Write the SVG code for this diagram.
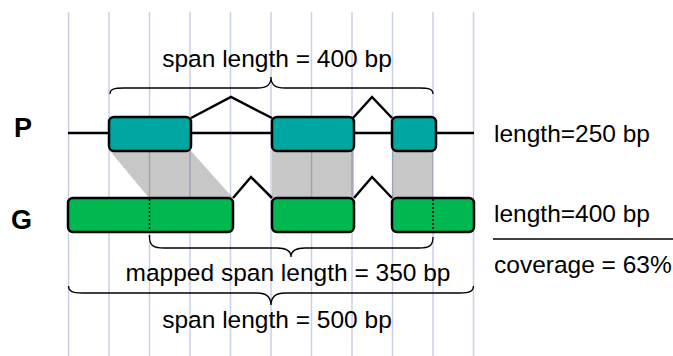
<svg xmlns="http://www.w3.org/2000/svg" width="673" height="356" viewBox="0 0 673 356">
<style>
.grid{stroke:#c9d1e8;stroke-width:1.5}
.shade{fill:#000;fill-opacity:0.22}
.pex{fill:#00a6a0;stroke:#000;stroke-width:2.5}
.gex{fill:#00b84f;stroke:#000;stroke-width:2.5}
.ln{fill:none;stroke:#000;stroke-width:2.5;stroke-linejoin:miter}
.br{fill:none;stroke:#000;stroke-width:1.3}
.dot{stroke:#000;stroke-width:1.5;stroke-dasharray:2 2}
text{font-family:"Liberation Sans",Arial,sans-serif;font-size:24.5px;fill:#000}
.lbl{font-weight:bold;font-size:27px}
</style>
<rect width="673" height="356" fill="#fff"/>
<g id="grid">
<line class="grid" x1="68.5" y1="12" x2="68.5" y2="356"/>
<line class="grid" x1="109" y1="12" x2="109" y2="356"/>
<line class="grid" x1="149.5" y1="12" x2="149.5" y2="356"/>
<line class="grid" x1="190" y1="12" x2="190" y2="356"/>
<line class="grid" x1="230.5" y1="12" x2="230.5" y2="356"/>
<line class="grid" x1="271" y1="12" x2="271" y2="356"/>
<line class="grid" x1="311.5" y1="12" x2="311.5" y2="356"/>
<line class="grid" x1="352" y1="12" x2="352" y2="356"/>
<line class="grid" x1="392.5" y1="12" x2="392.5" y2="356"/>
<line class="grid" x1="433" y1="12" x2="433" y2="356"/>
<line class="grid" x1="473.5" y1="12" x2="473.5" y2="356"/>
</g>
<g id="shading">
<polygon class="shade" points="110,151 191,151 233,198 149,198"/>
<rect class="shade" x="272" y="151" width="82" height="47"/>
<rect class="shade" x="392" y="151" width="41" height="47"/>
</g>
<g id="connectors">
<line class="ln" x1="68" y1="133" x2="474" y2="133"/>
<polyline class="ln" points="191,118 231,97 272,118"/>
<polyline class="ln" points="353,118 372,97 392,118"/>
<polyline class="ln" points="233,198 251,177 272,198"/>
<polyline class="ln" points="354,198 372,177 392,198"/>
</g>
<g id="P-exon1"><rect class="pex" x="109" y="117" width="82" height="34" rx="5"/></g>
<g id="P-exon2"><rect class="pex" x="272" y="117" width="82" height="34" rx="5"/></g>
<g id="P-exon3"><rect class="pex" x="392" y="117" width="44" height="34" rx="5"/></g>
<g id="G-exon1"><rect class="gex" x="68" y="198" width="165" height="34" rx="5"/><line class="dot" x1="149.5" y1="199" x2="149.5" y2="238"/></g>
<g id="G-exon2"><rect class="gex" x="272" y="198" width="82" height="34" rx="5"/></g>
<g id="G-exon3"><rect class="gex" x="392" y="198" width="82" height="34" rx="5"/><line class="dot" x1="433" y1="199" x2="433" y2="232"/></g>
<g id="braces">
<path class="br" d="M110,94 C110,89 114,88 124,88 L257,88 C267,88 271,85 271,77 C271,85 275,88 285,88 L419,88 C429,88 433,89 433,94"/>
<path class="br" d="M149.5,237 C149.5,246 154,248 164,248 L277,248 C287,248 291,251 291,257 C291,251 295,248 305,248 L419,248 C429,248 433,246 433,237"/>
<path class="br" d="M68.5,286 C68.5,291 72,293 82,293 L257,293 C267,293 271,297 271,305 C271,297 275,293 285,293 L460,293 C470,293 473.5,291 473.5,286"/>
</g>
<g id="labels">
<text x="277" y="67" text-anchor="middle">span length = 400 bp</text>
<text x="288" y="281" text-anchor="middle">mapped span length = 350 bp</text>
<text x="277" y="328" text-anchor="middle">span length = 500 bp</text>
<text class="lbl" x="14" y="137">P</text>
<text class="lbl" x="11" y="229">G</text>
<text x="494" y="142">length=250 bp</text>
<text x="494" y="222">length=400 bp</text>
<line x1="493" y1="239" x2="673" y2="239" stroke="#000" stroke-width="1.5"/>
<text x="494" y="273">coverage = 63%</text>
</g>
</svg>
